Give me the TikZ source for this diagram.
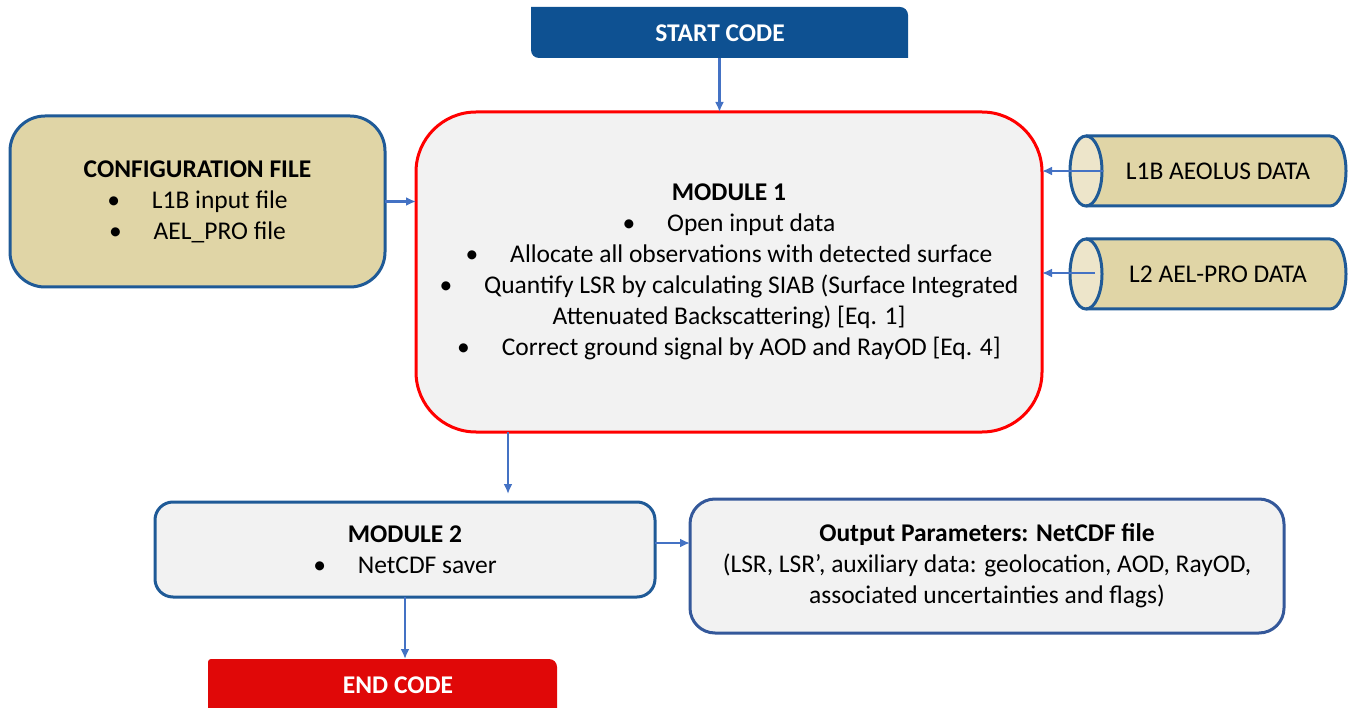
\documentclass[tikz,border=0pt]{standalone}
\usepackage{fontspec}
\setmainfont{Carlito}
\usetikzlibrary{arrows.meta}
\definecolor{startblue}{HTML}{0E5192}
\definecolor{endred}{HTML}{E00808}
\definecolor{tan}{HTML}{E0D5A6}
\definecolor{face}{HTML}{EDE5CA}
\definecolor{bordblue}{HTML}{1F5A97}
\definecolor{outblue}{HTML}{34589A}
\definecolor{arrowblue}{HTML}{4472C4}
\definecolor{greyfill}{HTML}{F2F2F2}
\definecolor{redline}{HTML}{FF0000}
\newcommand\bul{\textbullet\hspace{1.25em}}
\tikzset{
  txt/.style={font=\fontsize{25.5}{31}\selectfont, align=center, inner sep=0pt, outer sep=0pt},
  box/.style={txt, rectangle, line width=3pt},
  modone/.style={box, draw=redline, fill=greyfill, rounded corners=60pt},
  cfgbox/.style={box, draw=bordblue, fill=tan, rounded corners=35pt},
  modtwo/.style={box, draw=bordblue, fill=greyfill, rounded corners=18pt},
  outbox/.style={box, draw=outblue, fill=greyfill, rounded corners=25pt},
  termbox/.style={txt, text=white, font=\fontsize{25.5}{28}\selectfont\bfseries},
  arr/.style={draw=arrowblue, line width=2.2pt, -{Latex[length=10pt,width=9pt]}},
  cylborder/.style={draw=bordblue, line width=3pt},
}
\begin{document}
\begin{tikzpicture}[x=1pt,y=1pt]
\useasboundingbox (0,0) rectangle (1352,-708);

% START CODE
\node[termbox, minimum width=377pt, minimum height=51pt] (start) at (719.5,-32.5) {};
\fill[startblue] (start.north west) -- ([xshift=-8pt]start.north east)
  arc[start angle=90,end angle=0,radius=8pt] -- (start.south east)
  -- ([xshift=8pt]start.south west) arc[start angle=270,end angle=180,radius=8pt] -- cycle;
\node[termbox] (starttxt) at (720,-33) {START CODE};

% END CODE
\node[termbox, minimum width=349pt, minimum height=49pt] (end) at (382.5,-683.5) {};
\fill[endred] (end.south west) -- ([yshift=-3pt]end.north west)
  arc[start angle=180,end angle=90,radius=3pt] -- ([xshift=-8pt]end.north east)
  arc[start angle=90,end angle=0,radius=8pt] -- (end.south east) -- cycle;
\node[termbox] (endtxt) at (398,-685) {END CODE};

% MODULE 1
\node[modone, minimum width=626pt, minimum height=320pt] (mod1) at (729,-272)
 {\textbf{MODULE 1}\\
  \bul Open input data\\
  \bul Allocate all observations with detected surface\\
  \bul Quantify LSR by calculating SIAB (Surface Integrated\\
  Attenuated Backscattering) [Eq. 1]\\
  \bul Correct ground signal by AOD and RayOD [Eq. 4]};

% CONFIGURATION FILE
\node[cfgbox, minimum width=375pt, minimum height=171pt] (cfg) at (197.5,-201.5)
 {\textbf{CONFIGURATION FILE}\\
  \bul L1B input file\\
  \bul AEL\_PRO file};

% MODULE 2
\node[modtwo, minimum width=500pt, minimum height=95pt] (mod2) at (405,-549.5)
 {\textbf{MODULE 2}\\
  \bul NetCDF saver};

% OUTPUT
\node[outbox, minimum width=594pt, minimum height=134pt] (out) at (987,-566)
 {\textbf{Output Parameters: NetCDF file}\\
  (LSR, LSR’, auxiliary data: geolocation, AOD, RayOD,\\
  associated uncertainties and flags)};

% Cylinder 1
\fill[tan] (1086,-136) -- (1330,-136) arc[start angle=90,end angle=-90,x radius=16,y radius=35] -- (1086,-206) -- cycle;
\fill[face] (1086,-171) ellipse[x radius=16,y radius=35];
\draw[cylborder] (1086,-136) -- (1330,-136) arc[start angle=90,end angle=-90,x radius=16,y radius=35] -- (1086,-206);
\draw[cylborder] (1086,-171) ellipse[x radius=16,y radius=35];
\node[txt] (cyl1) at (1218,-171) {L1B AEOLUS DATA};
\coordinate (c1) at (1103,-171);

% Cylinder 2
\fill[tan] (1086,-239) -- (1330,-239) arc[start angle=90,end angle=-90,x radius=16,y radius=35] -- (1086,-309) -- cycle;
\fill[face] (1086,-274) ellipse[x radius=16,y radius=35];
\draw[cylborder] (1086,-239) -- (1330,-239) arc[start angle=90,end angle=-90,x radius=16,y radius=35] -- (1086,-309);
\draw[cylborder] (1086,-274) ellipse[x radius=16,y radius=35];
\node[txt] (cyl2) at (1218,-274) {L2 AEL-PRO DATA};
\coordinate (c2) at (1095,-273);

% Connectors
\draw[arr] (start.south) -- (start.south |- mod1.north);
\draw[arr] (cfg.east) -- (cfg.east -| mod1.west);
\draw[arr] (c1) -- (c1 -| mod1.east);
\draw[arr] (c2) -- (c2 -| mod1.east);
\coordinate (m12) at (508,0);
\draw[arr, shorten >=8pt] (mod1.south -| m12) -- (mod2.north -| m12);
\draw[arr] (mod2.south) -- (mod2.south |- end.north);
\coordinate (m2o) at (0,-543);
\draw[arr] (mod2.east |- m2o) -- (out.west |- m2o);
\end{tikzpicture}
\end{document}
